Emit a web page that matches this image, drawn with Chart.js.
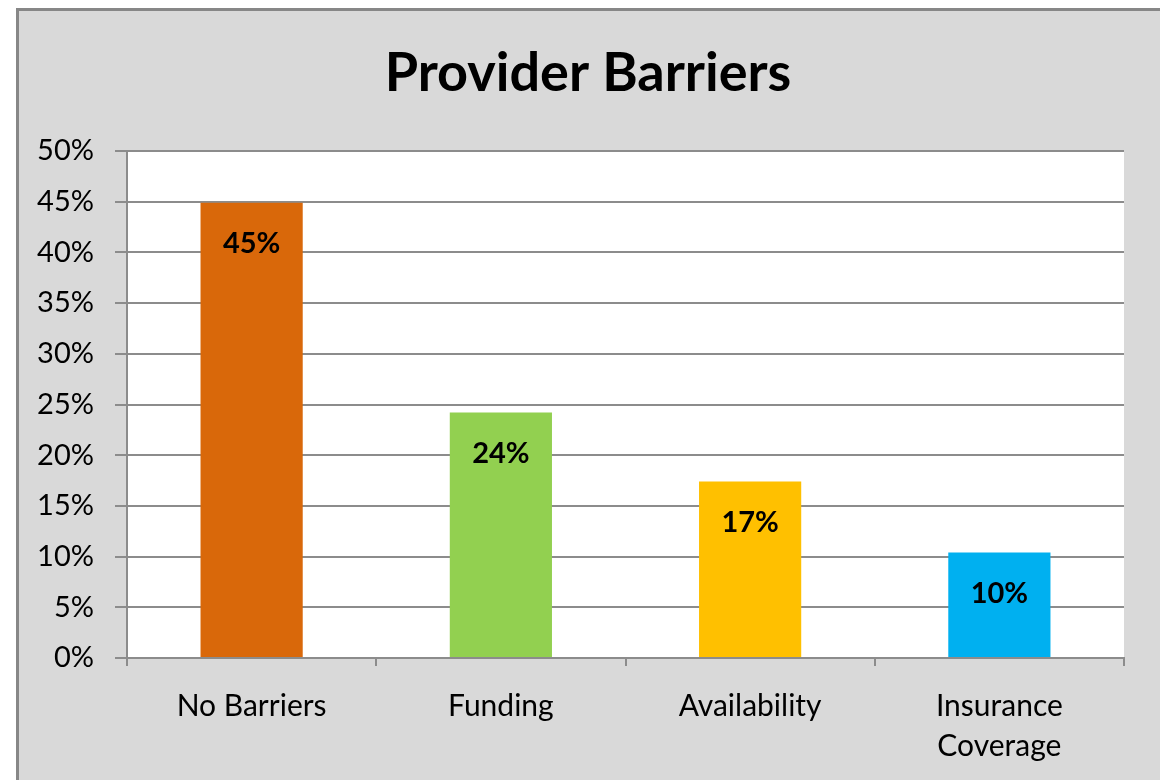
<!DOCTYPE html>
<html>
<head>
<meta charset="utf-8">
<script src="https://cdn.jsdelivr.net/npm/chart.js@4/dist/chart.umd.min.js"></script>
<style>
  html, body { margin: 0; padding: 0; background: #ffffff; }
  #wrap { position: absolute; left: 0; top: 0; width: 1160px; height: 780px; }
</style>
</head>
<body>
<div id="wrap"><canvas id="barriersChart" width="1160" height="780"></canvas></div>
<script>
const chartTitle = 'Provider Barriers';
const categories = ['No Barriers', 'Funding', 'Availability', ['Insurance', 'Coverage']];
const percentages = [44.9, 24.2, 17.4, 10.4];
const barColors = ['#d9680a', '#92d050', '#ffc000', '#00b0f0'];
const yTicks = [0, 5, 10, 15, 20, 25, 30, 35, 40, 45, 50];

const FONT = 'Lato, "Open Sans", sans-serif';
const GRID = '#8c8c8c';

// grey chart frame behind everything, title centred on the frame
const framePlugin = {
    id: 'frame',
    beforeDraw(chart) {
        const ctx = chart.ctx;
        ctx.save();
        ctx.fillStyle = '#ffffff';
        ctx.fillRect(0, 0, chart.width, chart.height);
        ctx.fillStyle = '#d9d9d9';
        ctx.fillRect(16, 8, chart.width, chart.height);
        ctx.strokeStyle = '#878787';
        ctx.lineWidth = 3;
        ctx.beginPath();
        ctx.moveTo(17.5, chart.height + 5);
        ctx.lineTo(17.5, 9.5);
        ctx.lineTo(chart.width + 5, 9.5);
        ctx.stroke();
        // white plot area
        const a = chart.chartArea;
        ctx.fillStyle = '#ffffff';
        ctx.fillRect(a.left, a.top, a.right - a.left, a.bottom - a.top);
        // title
        ctx.fillStyle = '#000000';
        ctx.font = 'bold 54px ' + FONT;
        ctx.textAlign = 'center';
        ctx.textBaseline = 'middle';
        ctx.fillText(chartTitle, (16 + chart.width) / 2, 74);
        ctx.restore();
    }
};

// value labels inside the top of each bar
const valueLabels = {
    id: 'valueLabels',
    afterDatasetsDraw(chart) {
        const ctx = chart.ctx;
        const meta = chart.getDatasetMeta(0);
        ctx.save();
        ctx.font = 'bold 29px ' + FONT;
        ctx.fillStyle = '#000000';
        ctx.textAlign = 'center';
        ctx.textBaseline = 'middle';
        meta.data.forEach((bar, i) => {
            ctx.fillText(Math.round(percentages[i]) + '%', bar.x, bar.y + 41);
        });
        ctx.restore();
    }
};

new Chart(document.getElementById('barriersChart').getContext('2d'), {
    type: 'bar',
    data: {
        labels: categories,
        datasets: [{
            data: percentages,
            backgroundColor: barColors,
            borderWidth: 0,
            categoryPercentage: 1,
            barPercentage: 0.41
        }]
    },
    options: {
        responsive: false,
        animation: false,
        layout: { padding: { top: 151, right: 36, bottom: 0, left: 0 } },
        scales: {
            x: {
                afterFit: scale => { scale.height = 122; },
                grid: { drawOnChartArea: false, drawTicks: true, tickLength: 8, color: GRID, lineWidth: 2 },
                border: { color: GRID, width: 2 },
                ticks: {
                    color: '#000000',
                    padding: 20,
                    maxRotation: 0,
                    font: { family: FONT, size: 30, lineHeight: 1.35 }
                }
            },
            y: {
                min: 0,
                max: 50,
                afterFit: scale => { scale.width = 127; },
                afterBuildTicks: scale => { scale.ticks = yTicks.map(v => ({ value: v })); },
                grid: { color: GRID, lineWidth: 2, tickLength: 12 },
                border: { color: GRID, width: 2 },
                ticks: {
                    color: '#000000',
                    padding: 21,
                    font: { family: FONT, size: 29 },
                    callback: v => v + '%'
                }
            }
        },
        plugins: {
            legend: { display: false },
            tooltip: { enabled: false },
            title: { display: false }
        }
    },
    plugins: [framePlugin, valueLabels]
});
</script>
</body>
</html>
